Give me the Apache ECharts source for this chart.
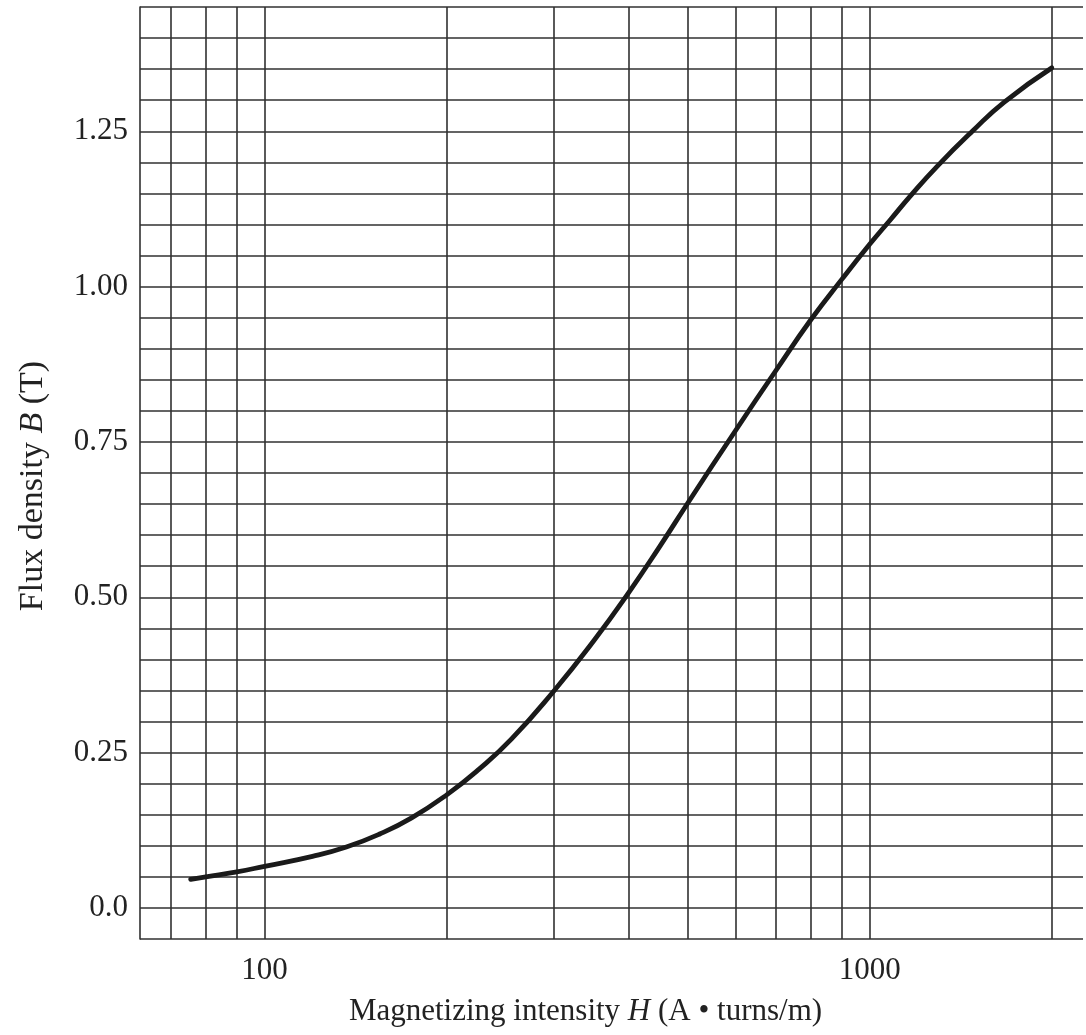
<!DOCTYPE html>
<html>
<head>
<meta charset="utf-8">
<script src="https://cdn.jsdelivr.net/npm/echarts@6/dist/echarts.min.js"></script>
<style>
  html, body { margin: 0; padding: 0; background: #fff; }
  #main { width: 1086px; height: 1035px; }
</style>
</head>
<body>
<div id="main"></div>
<script>
// magnetizing intensity H (A·turns/m) and flux density B (T)
const hValues = [75.5, 80, 90, 100, 120, 136.5, 155, 175, 200, 226, 256, 300, 350, 400, 450, 500, 600, 700, 800, 900, 1000, 1083, 1168, 1294, 1478, 1669, 2000];
const bValues = [0.046, 0.050, 0.058, 0.067, 0.083, 0.098, 0.119, 0.145, 0.182, 0.223, 0.272, 0.348, 0.430, 0.508, 0.582, 0.651, 0.768, 0.865, 0.947, 1.012, 1.068, 1.108, 1.146, 1.194, 1.250, 1.297, 1.352];

// vertical grid lines of the log paper
const xGridLines = [70, 80, 90, 100, 200, 300, 400, 500, 600, 700, 800, 900, 1000, 2000];
const xTickLabels = [100, 1000];
const yTickValues = [0, 0.25, 0.5, 0.75, 1, 1.25];
const yTickLabels = ['0.0', '0.25', '0.50', '0.75', '1.00', '1.25'];

const gridColor = '#303030';
const font = 'Liberation Serif';

const myChart = echarts.init(document.getElementById('main'));

let option = {
  animation: false,
  backgroundColor: '#fff',
  grid: {
    left: 140,
    right: 0,
    top: 7,
    bottom: 96
  },
  xAxis: {
    type: 'log',
    logBase: 10,
    min: 62.25,
    max: 2252,
    axisLine: { show: false },
    axisTick: { show: false },
    splitLine: { show: false },
    axisLabel: {
      margin: 16,
      fontFamily: font,
      fontSize: 31,
      color: '#222',
      formatter: (v) => {
        const hit = xTickLabels.find((t) => Math.abs(t - v) < 1e-6);
        return hit ? String(hit) : '';
      }
    },
    name: '{a|Magnetizing intensity }{i|H}{a| (A • turns/m)}',
    nameLocation: 'middle',
    nameGap: 57,
    nameTextStyle: {
      padding: [0, 52, 0, 0],
      rich: {
        a: { fontFamily: font, fontSize: 31, color: '#222' },
        i: { fontFamily: font, fontSize: 31, color: '#222', fontStyle: 'italic' }
      }
    }
  },
  yAxis: {
    type: 'value',
    min: -0.05,
    max: 1.45,
    interval: 0.05,
    axisLine: { show: true, lineStyle: { color: gridColor, width: 1.6 } },
    axisTick: { show: false },
    splitLine: { show: true, lineStyle: { color: gridColor, width: 1.6 } },
    axisLabel: {
      margin: 12,
      fontFamily: font,
      fontSize: 31,
      color: '#222',
      formatter: (v) => {
        const i = yTickValues.findIndex((t) => Math.abs(t - v) < 1e-6);
        return i >= 0 ? yTickLabels[i] : '';
      }
    },
    name: '{a|Flux density }{i|B}{a| (T)}',
    nameLocation: 'middle',
    nameRotate: 90,
    nameGap: 90,
    nameTextStyle: {
      padding: [0, 26, 0, 0],
      rich: {
        a: { fontFamily: font, fontSize: 34, color: '#222' },
        i: { fontFamily: font, fontSize: 34, color: '#222', fontStyle: 'italic' }
      }
    }
  },
  series: [
    {
      // grid lines at 70..90, 100..900, 1000, 2000
      type: 'line',
      data: [],
      z: 1,
      silent: true,
      markLine: {
        silent: true,
        symbol: ['none', 'none'],
        label: { show: false },
        lineStyle: { color: gridColor, width: 1.6, type: 'solid' },
        data: xGridLines.map((v) => ({ xAxis: v }))
      }
    },
    {
      name: 'B-H',
      type: 'line',
      z: 5,
      smooth: true,
      showSymbol: false,
      data: hValues.map((h, i) => [h, bValues[i]]),
      lineStyle: { color: '#1a1a1a', width: 4.8, cap: 'round' }
    }
  ]
};
myChart.setOption(option);
</script>
</body>
</html>
